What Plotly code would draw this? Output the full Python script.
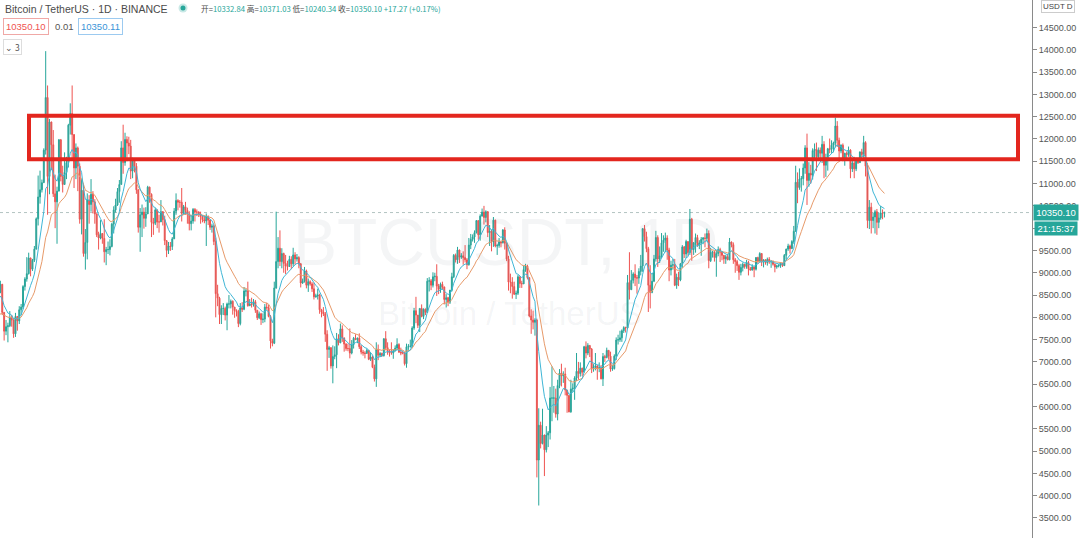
import plotly.graph_objects as go
import pandas as pd

start_date = "2019-05-10"

close_may19 = [6340,7230,6990,7810,7980,8190,7870,7360,7260,8180,7990,7950,7640,7880,7990,8050,8680,8800,8720,8660,8270,8550]
high_may19 = [6440,7450,7590,8180,8320,8280,8370,7930,7500,8260,8180,8100,8030,7950,8150,8150,8800,8950,8820,8750,9080,8600]
low_may19 = [6120,6340,6600,6900,7600,7840,7650,6600,7200,7250,7580,7800,7500,7450,7800,7950,8000,8650,8570,8420,8000,8050]

close_jun19 = [8560,8740,8110,7690,7790,7810,8000,7940,7630,8020,7920,8170,8230,8690,8860,8980,9330,9080,9280,9530,10210,10700,10860,11020,11750,12930,11160,12380,11870,10770]
high_jun19 = [8630,8820,8750,8120,7940,7880,8140,8050,7960,8100,8030,8250,8300,8720,8900,9350,9450,9340,9310,9600,10240,11180,11290,11090,11790,13970,13200,12450,12390,12200]
low_jun19 = [8450,8540,8050,7480,7600,7440,7780,7790,7540,7560,7700,7850,8050,8180,8600,8800,8960,8920,9040,9240,9520,10060,10550,10800,11020,11650,10300,10760,11300,10700]

close_jul19 = [10590,10830,11980,11160,10980,11250,11470,12310,12570,12100,11350,11800,11390,10200,10850,9430,9680,10630,10530,10760,10590,10320,9850,9780,9880,9770,9470,9520,9520,9590,10090]
high_jul19 = [11200,10930,12000,12000,11400,11700,11600,12340,12800,13200,12100,11900,11830,11450,11100,11000,9980,10780,10740,11100,10830,10650,10330,9920,10180,9890,10200,9580,9700,9750,10120]
low_jul19 = [10000,9650,10830,11050,10800,10990,11100,11360,12100,11570,10900,11100,10830,10100,9860,9360,9070,9300,10100,10370,10330,10100,9800,9520,9750,9650,9230,9170,9420,9390,9570]

close_aug19 = [10410,10520,10820,10980,11800,11470,11990,11910,11840,11280,11530,11390,10860,10020,10300,10360,10220,10320,10920,10760,10130,10110,10410,10140,10140,10370,10190,9720,9500,9600,9590]
high_aug19 = [10490,10660,10900,11080,11950,12320,12140,12060,12050,11980,11580,11560,11460,10870,10450,10530,10460,10470,10950,10930,10780,10230,10450,10420,10300,10630,10380,10280,9730,9690,9690]
low_aug19 = [9880,10350,10500,10570,10980,11220,11400,11500,11660,11100,11120,11250,10770,9900,9470,9800,9990,10030,10320,10570,9800,9850,10070,10000,9900,10140,10060,9620,9350,9420,9490]

close_sep19 = [9760,10380,10620,10580,10580,10330,10480,10400,10320,10100,10160,10420,10360,10360,10310,10260,10190,10160,10270,10180,10020,10050,9700,8530,8430,8060,8200,8200,8050,8300]
high_sep19 = [9800,10450,10780,10650,10630,10900,10520,10590,10460,10380,10300,10450,10450,10420,10380,10370,10270,10280,10330,10280,10200,10100,10080,9790,8730,8460,8270,8320,8240,8330]
low_sep19 = [9510,9760,10300,10400,10460,10150,10310,10300,10100,9950,9950,10100,10150,10270,10250,10100,10130,10110,9600,10070,9960,9900,9620,8000,8250,7850,7850,8050,7930,7710]

close_oct19 = [8300,8360,8230,8150,8130,7860,8210,8180,8590,8590,8260,8300,8290,8350,8160,7990,8080,7950,7960,8230,8220,8020,7470,7420,8660,9250,9550,9250,9430,9210,9150]
high_oct19 = [8500,8400,8380,8230,8180,8170,8320,8340,8680,8640,8800,8410,8440,8410,8390,8160,8130,8100,8090,8300,8330,8280,8050,7520,8800,10370,9800,9950,9550,9450,9400]
low_oct19 = [8200,8200,8060,7990,8020,7780,7820,8120,8160,8470,8240,8260,8220,8240,8100,7940,7960,7830,7870,7890,8170,8000,7300,7350,7400,8640,9100,9150,9100,9000,8970]

close_nov19 = [9140,9300,9200,9400,9310,9340,9200,8770,8810,9040,8720,8800,8750,8640,8460,8480,8500,8170,8120,8080,7620,7280,7320,6910,7120,7160,7520,7430,7740,7540]
high_nov19 = [9270,9380,9370,9560,9460,9420,9370,9220,8870,9130,9070,8870,8830,8790,8780,8530,8640,8530,8190,8230,8120,7710,7360,7330,7370,7350,7650,7620,7860,7820]
low_nov19 = [9050,9140,9080,9140,9180,9250,9100,8670,8750,8780,8650,8570,8710,8570,8400,8440,8400,8080,8000,8030,7450,6800,7090,6850,6520,7060,6860,7370,7420,7450]

close_dec19 = [7400,7300,7300,7200,7390,7530,7500,7530,7340,7220,7200,7190,7260,7060,7110,6880,6620,7280,7150,7190,7140,7520,7320,7250,7200,7200,7250,7310,7390,7220,7200]
high_dec19 = [7540,7420,7410,7750,7490,7560,7620,7550,7640,7380,7270,7240,7300,7270,7200,7140,6940,7440,7390,7220,7210,7530,7690,7440,7280,7440,7280,7370,7530,7420,7320]
low_dec19 = [7230,7250,7240,7080,7170,7300,7490,7420,7290,7170,7140,7080,7190,7040,7020,6860,6560,6440,7040,7110,7120,7120,7260,7160,7120,7160,7070,7240,7290,7200,7150]

close_jan20 = [7200,6960,7340,7350,7350,7760,8150,8050,7820,8200,8020,8180,8110,8810,8820,8720,8910,8920,8700,8630,8740,8680,8400,8440,8340,8610,8910,9390,9290,9510,9350]
high_jan20 = [7250,7220,7410,7400,7500,7800,8210,8460,8050,8200,8290,8200,8200,8880,8900,8860,9010,9000,9190,8750,8780,8800,8690,8520,8460,8610,9000,9420,9430,9580,9520]
low_jan20 = [7170,6920,6870,7270,7320,7340,7720,7870,7760,7670,8000,7960,8050,8110,8580,8610,8670,8810,8480,8520,8550,8620,8290,8220,8250,8300,8580,8880,9230,9200,9220]

close_feb20 = [9380,9340,9290,9180,9620,9750,9800,9900,10170,9850,10270,10360,10240,10370,9900,9930,9700,10180,9600,9610,9690,9670,9960,9660,9310,8790,8790,8690,8520]
high_feb20 = [9440,9480,9620,9330,9780,9870,9860,9950,10180,10170,10310,10440,10500,10400,10380,10070,9970,10250,10190,9650,9780,9700,9980,10020,9670,9380,8980,8900,8800]
low_feb20 = [9310,9180,9230,9080,9160,9530,9700,9670,9880,9740,9720,10260,10080,10130,9800,9600,9480,9580,9570,9400,9560,9570,9660,9520,9260,8600,8540,8420,8500]

close_mar20 = [8540,8910,8760,8750,9070,9150,8890,8030,7940,7890,7940,4800,5580,5170,5360,5030,5360,5410,6190,6190,6190,5830,6470,6750,6690,6730,6370,6250,5880,6390,6410]
high_mar20 = [8600,8950,8900,8820,9160,9200,9180,8900,8180,8150,7980,7970,5960,5660,5950,5370,5560,5450,6440,6900,6460,6400,6600,6840,6960,6790,6870,6270,6250,6600,6520]
low_mar20 = [8410,8500,8660,8660,8760,9020,8850,8000,7630,7730,7590,4410,3780,5060,5150,4440,4970,5090,5260,5670,5860,5750,5690,6410,6450,6530,6250,5860,5870,5860,6330]

close_apr20 = [6640,6790,6740,6860,6770,7340,7200,7370,7290,6860,6880,6910,6860,6870,6620,7120,7100,7260,7130,6840,6850,7130,7490,7500,7540,7700,7770,7760,8780,8620]
high_apr20 = [6680,7200,7000,6990,6870,7360,7460,7420,7370,7310,6950,7200,6930,6990,6930,7200,7160,7320,7250,7230,6940,7170,7550,7610,7700,7730,7800,7790,8950,9460]
low_apr20 = [6150,6570,6600,6670,6680,6770,7080,7150,7110,6750,6780,6810,6600,6770,6610,6460,7000,7080,7050,6780,6800,6830,7040,7390,7450,7450,7650,7660,7740,8400]

close_may20 = [8830,8970,8890,8880,9030,9150,9990,9810,9540,8720,8560,8810,9310,9790,9310,9380,9670,9730,9780,9510,9060,9170,9180,8720,8900,8840,9200,9580,9420,9700,9450]
high_may20 = [9060,9010,9190,8950,9100,9400,9990,10070,9920,9580,9170,8980,9400,9940,9840,9590,9890,9840,9900,9840,9560,9270,9310,9310,8980,9020,9220,9620,9600,9740,9700]
low_may20 = [8620,8760,8700,8530,8750,8940,9020,9700,9460,8120,8200,8540,8790,9250,9130,9220,9330,9470,9460,9290,8810,8940,9070,8700,8640,8700,8810,9110,9330,9330,9380]

close_jun20 = [10200,9520,9670,9790,9620,9670,9750,9780,9770,9880,9270,9460,9470,9340,9430,9520,9460,9390,9310,9360,9290,9690,9630,9290,9250,9160,9010,9120,9190,9140]
high_jun20 = [10430,10230,9690,9880,9850,9730,9800,9800,9880,9990,9950,9560,9490,9480,9500,9590,9560,9480,9400,9400,9420,9780,9700,9680,9330,9290,9200,9200,9230,9200]
low_jun20 = [9400,9270,9400,9450,9580,9530,9380,9640,9570,9700,9100,9240,9340,9250,8910,9370,9240,9280,9200,9200,9280,9280,9570,9200,9000,9040,8840,8940,9030,9090]

close_jul20 = [9230,9090,9060,9130,9080,9340,9250,9430,9240,9290,9230,9300,9240,9260,9190,9130,9150,9170,9210,9160,9390,9530,9600,9540,9700,9930,11030,10910,11100,11110,11350]
high_jul20 = [9290,9270,9130,9190,9140,9350,9360,9460,9440,9300,9300,9340,9350,9280,9270,9210,9180,9190,9230,9220,9420,9540,9650,9630,9730,10050,11400,11250,11340,11170,11450]
low_jul20 = [9090,8940,9050,9050,8900,9050,9200,9230,9150,9120,9180,9160,9200,9110,9160,9010,9090,9120,9110,9130,9150,9300,9490,9430,9540,9650,9920,10560,10860,10820,10960]

close_aug20 = [11800,11070,11230,11190,11740,11770,11600,11750,11680,11880,11410,11580,11780,11770,11860,11910,12290,11970,11730,11860,11520,11680,11650,11750,11330,11460,11330,11540,11470,11710,11650]
high_aug20 = [11860,12120,11480,11420,11790,11900,11920,11810,11810,12070,11950,11670,11800,12010,11970,11940,12480,12400,12030,11880,11900,11690,11720,11830,11770,11530,11600,11580,11580,11720,11780]
low_aug20 = [11220,10520,10930,11000,11090,11560,11280,11530,11520,11460,11120,11150,11290,11680,11690,11700,11810,11820,11570,11680,11500,11400,11520,11600,11120,11260,11120,11280,11440,11460,11580]

close_sep20 = [11920,11390,10170,10470,10170,10250,10370,10130,10230,10340,10332.84,10350.10]
high_sep20 = [12070,11950,11460,10630,10570,10350,10410,10430,10350,10500,10420,10371.03]
low_sep20 = [11550,11160,10000,9980,9880,10000,9880,9850,10000,10190,10200,10240.34]

first_open = 6150

price_ticks = [3500, 4000, 4500, 5000, 5500, 6000, 6500, 7000, 7500, 8000, 8500, 9000, 9500,
               10000, 10500, 11000, 11500, 12000, 12500, 13000, 13500, 14000, 14500]

# Fixed settings (not data)
ema_fast_len = 9
ema_slow_len = 21
zone_top, zone_bottom = 12520, 11545
last_price = 10350.10
y_range = [3051, 15117]
x_range = ["2019-06-01 19:25", "2020-11-29 02:30"]

closes = (close_may19 + close_jun19 + close_jul19 + close_aug19 + close_sep19 + close_oct19 + close_nov19 + close_dec19
          + close_jan20 + close_feb20 + close_mar20 + close_apr20 + close_may20 + close_jun20 + close_jul20 + close_aug20 + close_sep20)
highs = (high_may19 + high_jun19 + high_jul19 + high_aug19 + high_sep19 + high_oct19 + high_nov19 + high_dec19
         + high_jan20 + high_feb20 + high_mar20 + high_apr20 + high_may20 + high_jun20 + high_jul20 + high_aug20 + high_sep20)
lows = (low_may19 + low_jun19 + low_jul19 + low_aug19 + low_sep19 + low_oct19 + low_nov19 + low_dec19
        + low_jan20 + low_feb20 + low_mar20 + low_apr20 + low_may20 + low_jun20 + low_jul20 + low_aug20 + low_sep20)
# daily crypto candles open at the previous close
opens = [first_open] + closes[:-1]
highs = [max(h, o, c) for h, o, c in zip(highs, opens, closes)]
lows = [min(l, o, c) for l, o, c in zip(lows, opens, closes)]

dates = pd.date_range(start_date, periods=len(closes), freq="D")
s = pd.Series(closes, index=dates)
ema_fast = s.ewm(span=ema_fast_len, adjust=False).mean()
ema_slow = s.ewm(span=ema_slow_len, adjust=False).mean()

UP = "#26a69a"
DOWN = "#ef5350"
W, H = 1080, 538
PLOT_W = 1032

fig = go.Figure()
fig.add_trace(go.Candlestick(
    x=dates, open=opens, high=highs, low=lows, close=closes,
    increasing=dict(line=dict(color=UP, width=1), fillcolor="#6e8f8b"),
    decreasing=dict(line=dict(color=DOWN, width=1), fillcolor="#9a6e6c"),
    whiskerwidth=0, hoverinfo="skip", showlegend=False,
))
fig.add_trace(go.Scatter(x=dates, y=ema_slow, mode="lines",
                         line=dict(color="#e79a6a", width=1), hoverinfo="skip", showlegend=False))
fig.add_trace(go.Scatter(x=dates, y=ema_fast, mode="lines",
                         line=dict(color="#3fb6d6", width=1), hoverinfo="skip", showlegend=False))

def px(xp):
    return xp / PLOT_W

def py(yp):
    return 1 - yp / H

shapes = []
shapes.append(dict(type="line", xref="paper", yref="y", x0=0, x1=1, y0=last_price, y1=last_price,
                   line=dict(color="#b3c4c2", width=1, dash="dot"), layer="below"))
shapes.append(dict(type="rect", xref="paper", yref="y", x0=px(29), x1=px(1018), y0=zone_bottom, y1=zone_top,
                   line=dict(color="#e3261e", width=4), fillcolor="rgba(0,0,0,0)"))
shapes.append(dict(type="circle", xref="paper", yref="paper", x0=px(178.5), x1=px(187.5), y0=py(12.5), y1=py(3.5),
                   line=dict(width=0), fillcolor="rgba(38,166,154,0.25)"))
shapes.append(dict(type="circle", xref="paper", yref="paper", x0=px(180.5), x1=px(185.5), y0=py(10.5), y1=py(5.5),
                   line=dict(width=0), fillcolor=UP))

FONT = "Noto Sans CJK SC, Noto Sans, sans-serif"
LAT = "Liberation Sans, Arial, sans-serif"
WM = "rgba(110,125,140,0.075)"
ann = []
ann.append(dict(text="BTCUSDT, 1D", xref="paper", yref="paper", x=px(505), y=py(242), showarrow=False,
                font=dict(size=66, color=WM, family=LAT), xanchor="center", yanchor="middle"))
ann.append(dict(text="Bitcoin / TetherUS", xref="paper", yref="paper", x=px(510), y=py(313), showarrow=False,
                font=dict(size=33, color=WM, family=LAT), xanchor="center", yanchor="middle"))
ann.append(dict(text="Bitcoin / TetherUS · 1D · BINANCE", xref="paper", yref="paper", x=px(3), y=py(8.5),
                showarrow=False, xanchor="left", yanchor="middle", font=dict(size=10.5, color="#4b4b4b", family=LAT)))
tc = UP
ohlc_txt = (f"开=<span style='color:{tc}'>10332.84</span> 高=<span style='color:{tc}'>10371.03</span> "
            f"低=<span style='color:{tc}'>10240.34</span> 收=<span style='color:{tc}'>10350.10</span> "
            f"<span style='color:{tc}'>+17.27 (+0.17%)</span>")
ann.append(dict(text=ohlc_txt, xref="paper", yref="paper", x=px(199), y=py(8.5), showarrow=False,
                xanchor="left", yanchor="middle", font=dict(size=7.7, color="#4b4b4b", family=FONT)))
ann.append(dict(text="10350.10", xref="paper", yref="paper", x=px(3), y=py(26), showarrow=False,
                xanchor="left", yanchor="middle", font=dict(size=9.5, color="#ef5350", family=LAT),
                bordercolor="#f0a8a6", borderwidth=1, borderpad=2, bgcolor="white"))
ann.append(dict(text="0.01", xref="paper", yref="paper", x=px(53), y=py(26), showarrow=False,
                xanchor="left", yanchor="middle", font=dict(size=9.5, color="#555555", family=LAT)))
ann.append(dict(text="10350.11", xref="paper", yref="paper", x=px(78), y=py(26), showarrow=False,
                xanchor="left", yanchor="middle", font=dict(size=9.5, color="#3a94d8", family=LAT),
                bordercolor="#9ccaf0", borderwidth=1, borderpad=2, bgcolor="white"))
ann.append(dict(text="⌄ 3", xref="paper", yref="paper", x=px(3), y=py(47), showarrow=False,
                xanchor="left", yanchor="middle", font=dict(size=8.5, color="#555555", family=FONT),
                bordercolor="#dddddd", borderwidth=1, borderpad=1, bgcolor="white"))
ann.append(dict(text="USDT D", xref="paper", yref="paper", x=px(1058), y=py(7), showarrow=False,
                xanchor="center", yanchor="middle", font=dict(size=8, color="#444444", family=LAT),
                bordercolor="#cccccc", borderwidth=1, borderpad=1, bgcolor="white"))
ann.append(dict(text="10350.10", xref="paper", yref="y", x=px(1056), y=last_price, showarrow=False,
                xanchor="center", yanchor="middle", font=dict(size=9.5, color="white", family=LAT),
                bgcolor=UP, borderpad=2, width=40))
ann.append(dict(text="21:15:37", xref="paper", yref="paper", x=px(1056), y=py(228), showarrow=False,
                xanchor="center", yanchor="middle", font=dict(size=9.5, color="white", family=LAT),
                bgcolor=UP, borderpad=1, width=40))

fig.update_layout(
    width=W, height=H,
    margin=dict(l=0, r=W - PLOT_W, t=0, b=0),
    paper_bgcolor="white", plot_bgcolor="white",
    showlegend=False,
    shapes=shapes, annotations=ann,
    xaxis=dict(type="date", range=x_range, rangeslider=dict(visible=False), showgrid=False,
               showticklabels=False, zeroline=False, showline=False, ticks=""),
    yaxis=dict(side="right", range=y_range, tickmode="array", tickvals=price_ticks,
               ticktext=[f"{v:.2f}" for v in price_ticks], showgrid=False,
               zeroline=False, showline=True, linecolor="#8a8a8a", linewidth=1, ticks="outside",
               ticklen=4, tickcolor="#8a8a8a",
               tickfont=dict(size=9, color="#555555", family=LAT)),
)

fig.write_html("out.html", config={"displayModeBar": False},
               post_script="document.body.style.margin='0';document.body.style.padding='0';")
